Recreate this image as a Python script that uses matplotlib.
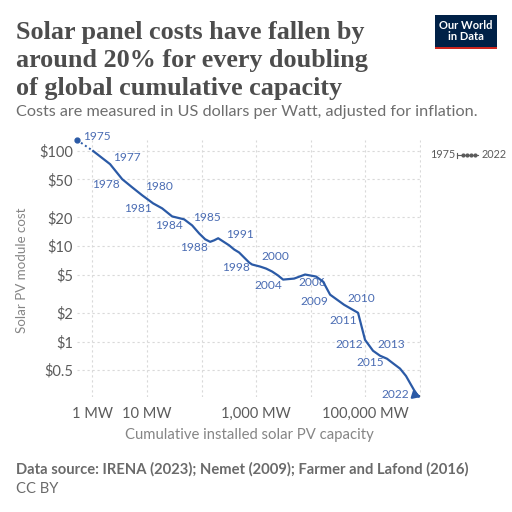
import matplotlib
matplotlib.use("Agg")
import matplotlib.pyplot as plt
from matplotlib.patches import Rectangle
from matplotlib.lines import Line2D
from matplotlib.ticker import FixedLocator, FixedFormatter, NullLocator

years = list(range(1975, 2023))
capacity_mw = [0.52, 1.03, 2.1, 3.5, 5.3, 8.1, 12.9, 18.9, 28.8, 47.8,
               67, 90, 116, 143, 169, 201, 248, 319, 394, 486,
               552, 653, 741, 841, 996, 1178, 1518, 1955, 2518, 3110,
               4950, 7870, 12500, 16800, 22600, 40700, 73500, 98800, 138300, 185800,
               249700, 335500, 432300, 556500, 658600, 780000, 923000, 1047000]
cost_usd = [129.7, 99.3, 72.4, 50.4, 41.5, 34.2, 28.1, 24.9, 20.5, 19.1,
            16.5, 13.6, 11.8, 11.1, 11.5, 12.1, 11.2, 10.2, 9.23, 8.58,
            7.98, 7.25, 6.74, 6.42, 6.26, 6.11, 5.82, 5.42, 4.92, 4.46,
            4.57, 5.04, 4.80, 4.25, 3.10, 2.43, 2.00, 1.04, 0.80, 0.71,
            0.66, 0.58, 0.52, 0.435, 0.367, 0.31, 0.268, 0.262]

labelled_years = [1975, 1977, 1978, 1980, 1981, 1984, 1985, 1988, 1991, 1998,
                  2000, 2004, 2006, 2009, 2010, 2011, 2012, 2013, 2015, 2022]

y_ticks = [100, 50, 20, 10, 5, 2, 1, 0.5]
y_tick_labels = ["$100", "$50", "$20", "$10", "$5", "$2", "$1", "$0.5"]
x_grid = [1, 10, 100, 1000, 10000, 100000, 1000000]
x_tick_labels = ["1 MW", "10 MW", "", "1,000 MW", "", "100,000 MW", ""]

# label placement (offset pixels, horizontal alignment) - styling only
label_style = {
    1975: (6, 4, "left"), 1977: (3, 7, "left"), 1978: (-2, -5, "right"),
    1980: (3, 9, "left"), 1981: (-1, -5, "right"), 1984: (-1, -6, "right"),
    1985: (1, 8, "left"), 1988: (-2, -6, "right"), 1991: (3, 7, "left"),
    1998: (-2, -3, "right"), 2000: (1, 10, "left"), 2004: (-1, -6, "right"),
    2006: (7, -8, "center"), 2009: (-2, -7, "right"), 2010: (3, 6, "left"),
    2011: (-1, -8, "right"), 2012: (-2, -5, "right"), 2013: (4, 6, "left"),
    2015: (-3, -4, "right"), 2022: (-12, 3, "right"),
}

W = H = 512
fig = plt.figure(figsize=(5.12, 5.12), dpi=100)
fig.patch.set_facecolor("white")

def fx(px):
    return px / W

def fy(py):
    return 1 - py / H

ax = fig.add_axes([fx(77), fy(397), fx(421) - fx(77), fy(140) - fy(397)])
ax.set_xscale("log")
ax.set_yscale("log")
ax.set_xlim(capacity_mw[0], capacity_mw[-1])
ax.set_ylim(cost_usd[-1], cost_usd[0])

for s in ax.spines.values():
    s.set_visible(False)

ax.yaxis.set_major_locator(FixedLocator(y_ticks))
ax.yaxis.set_major_formatter(FixedFormatter(y_tick_labels))
ax.yaxis.set_minor_locator(NullLocator())
ax.xaxis.set_major_locator(FixedLocator(x_grid))
ax.xaxis.set_major_formatter(FixedFormatter(x_tick_labels))
ax.xaxis.set_minor_locator(NullLocator())
ax.tick_params(axis="both", length=0, labelsize=10.5, labelcolor="#5b5b5b")
ax.tick_params(axis="y", pad=3)
ax.tick_params(axis="x", pad=7)
for lbl in ax.get_xticklabels() + ax.get_yticklabels():
    lbl.set_fontfamily("Lato")
ax.grid(True, which="major", color="#d9d9d9", linestyle=(0, (2, 2.5)), linewidth=0.8)
ax.set_axisbelow(True)

line_color = "#2b5aa6"
label_color = "#4a6cb3"

# dotted first segment, solid rest
ax.plot(capacity_mw[:2], cost_usd[:2], color=line_color, lw=1.4, linestyle=(0, (1, 1.5)),
        clip_on=False, zorder=3)
ax.plot(capacity_mw[1:-1], cost_usd[1:-1], color=line_color, lw=1.6, clip_on=False,
        zorder=3, solid_joinstyle="round")
ax.plot([capacity_mw[0]], [cost_usd[0]], "o", color=line_color, ms=3.5, clip_on=False, zorder=4)
ax.annotate("", xy=(capacity_mw[-1], cost_usd[-1]), xytext=(capacity_mw[-2], cost_usd[-2]),
            arrowprops=dict(arrowstyle="-|>,head_length=0.45,head_width=0.25", color=line_color,
                            lw=1.6, shrinkA=0, shrinkB=0), annotation_clip=False, zorder=4)

for yr in labelled_years:
    i = years.index(yr)
    dx, dy, ha = label_style[yr]
    ax.annotate(str(yr), xy=(capacity_mw[i], cost_usd[i]), xytext=(dx, dy),
                textcoords="offset pixels", ha=ha, va="center", fontsize=8.6,
                color=label_color, family="Lato", annotation_clip=False, zorder=2)

# axis titles
fig.text(fx(22), fy(270), "Solar PV module cost", rotation=90, ha="center", va="center",
         fontsize=9.6, color="#858585", family="Lato")
fig.text(fx(249), fy(435), "Cumulative installed solar PV capacity", ha="center", va="center",
         fontsize=10.7, color="#858585", family="Lato")

# title and subtitle
title_lines = ["Solar panel costs have fallen by",
               "around 20% for every doubling",
               "of global cumulative capacity"]
for k, t in enumerate(title_lines):
    fig.text(fx(16), fy(38.5 + 28 * k), t, ha="left", va="baseline", fontsize=18.8,
             fontweight="bold", color="#4d4d4d", family="Liberation Serif")
fig.text(fx(16), fy(116), "Costs are measured in US dollars per Watt, adjusted for inflation.",
         ha="left", va="baseline", fontsize=11.7, color="#6e6e6e", family="Lato")

# legend at right
fig.text(fx(430), fy(155), "1975", ha="left", va="center", fontsize=7.8, color="#5b5b5b", family="Lato")
fig.text(fx(507), fy(155), "2022", ha="right", va="center", fontsize=7.8, color="#5b5b5b", family="Lato")
fig.add_artist(Line2D([fx(457), fx(478)], [fy(155), fy(155)], color="#5b5b5b", lw=0.8))
fig.add_artist(Line2D([fx(457), fx(457)], [fy(152.5), fy(157.5)], color="#5b5b5b", lw=0.8))
for px in (463, 467, 471, 475):
    fig.add_artist(Line2D([fx(px)], [fy(155)], color="#5b5b5b", marker="o", markersize=2, lw=0))

# footer
fig.text(fx(16), fy(469), "Data source: IRENA (2023); Nemet (2009); Farmer and Lafond (2016)",
         ha="left", va="center", fontsize=10.6, fontweight="bold", color="#6a6a6a", family="Lato")
fig.text(fx(16), fy(489), "CC BY", ha="left", va="center", fontsize=10.6, color="#6a6a6a", family="Lato")

# logo
fig.add_artist(Rectangle((fx(435), fy(49)), fx(497) - fx(435), fy(15) - fy(49),
                         transform=fig.transFigure, facecolor="#002147", edgecolor="none"))
fig.add_artist(Rectangle((fx(435), fy(49)), fx(497) - fx(435), fy(46.5) - fy(49),
                         transform=fig.transFigure, facecolor="#ce261e", edgecolor="none"))
fig.text(fx(466), fy(31), "Our World\nin Data", ha="center", va="center", fontsize=8,
         fontweight="bold", color="white", family="Lato", linespacing=0.95)

fig.savefig("out.png", dpi=100, facecolor="white")
